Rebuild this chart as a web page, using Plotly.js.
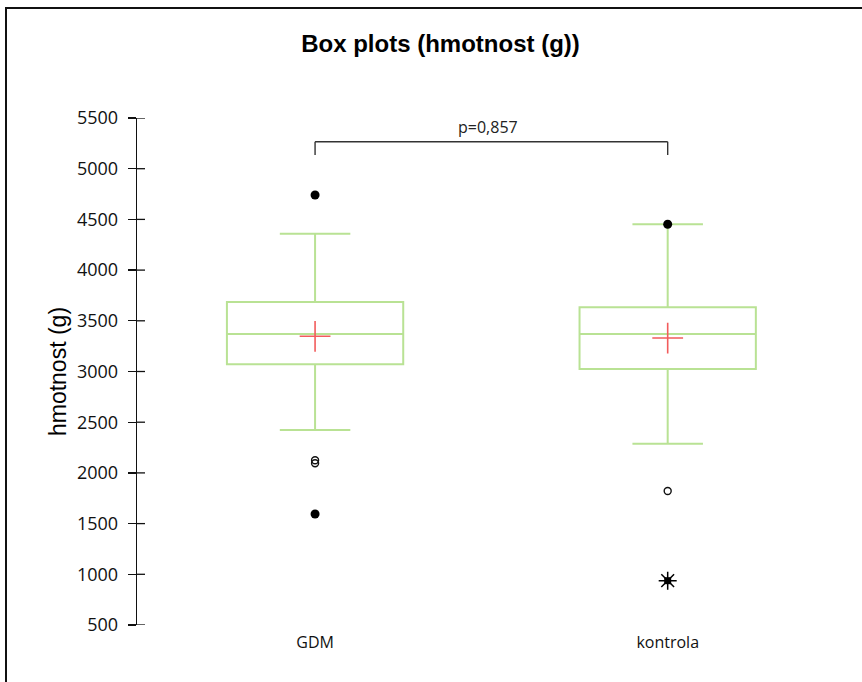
<!DOCTYPE html>
<html>
<head>
<meta charset="utf-8">
<script src="https://cdn.plot.ly/plotly-3.0.1.min.js"></script>
<style>
  html, body { margin: 0; padding: 0; background: #fff; }
  #wrap { position: relative; width: 862px; height: 682px; }
  #chart { position: absolute; left: 0; top: 0; width: 862px; height: 682px; }
  #frame { position: absolute; left: 5px; top: 7px; width: 857px; height: 675px;
           border-top: 2px solid #111; border-left: 2px solid #111; pointer-events: none; box-sizing: border-box; }
</style>
</head>
<body>
<div id="wrap">
  <div id="chart"></div>
  <div id="frame"></div>
</div>
<script>
// ---- data ----
const categories = ['GDM', 'kontrola'];
const q1Vals = [3071, 3025];
const medianVals = [3370, 3370];
const q3Vals = [3685, 3633];
const lowerWhisker = [2423, 2288];
const upperWhisker = [4359, 4452];
const meanVals = [3347, 3330];

// outliers: filled dots, open circles, extreme (asterisk)
const filledX = ['GDM', 'GDM', 'kontrola'];
const filledY = [4741, 1595, 4452];
const openX = ['GDM', 'GDM', 'kontrola'];
const openY = [2125, 2095, 1821];
const extremeX = ['kontrola'];
const extremeY = [937];

const pText = 'p=0,857';
const bracketTop = 5266;
const bracketLeg = 5135;

const yTicks = [500, 1000, 1500, 2000, 2500, 3000, 3500, 4000, 4500, 5000, 5500];

const boxColor = '#b9e294';
const meanColor = '#f25c5c';

const traces = [];
categories.forEach((c, i) => {
  traces.push({
    type: 'box', x: [c],
    q1: [q1Vals[i]], median: [medianVals[i]], q3: [q3Vals[i]],
    lowerfence: [lowerWhisker[i]], upperfence: [upperWhisker[i]],
    boxpoints: false, width: 0.5, whiskerwidth: 0.4,
    line: { color: boxColor, width: 2 },
    fillcolor: 'rgba(0,0,0,0)', hoverinfo: 'skip', showlegend: false
  });
});
traces.push({
  type: 'scatter', mode: 'markers', x: categories, y: meanVals,
  marker: { symbol: 'cross-thin-open', size: 22, color: meanColor, line: { color: meanColor, width: 1.6 } },
  hoverinfo: 'skip', showlegend: false
});
traces.push({
  type: 'scatter', mode: 'markers', x: filledX, y: filledY,
  marker: { symbol: 'circle', size: 9, color: '#000' },
  hoverinfo: 'skip', showlegend: false
});
traces.push({
  type: 'scatter', mode: 'markers', x: openX, y: openY,
  marker: { symbol: 'circle-open', size: 7, color: '#111', line: { color: '#111', width: 1.4 } },
  hoverinfo: 'skip', showlegend: false
});
traces.push({
  type: 'scatter', mode: 'markers', x: extremeX, y: extremeY,
  marker: { symbol: 'asterisk-open', size: 15, color: '#000', line: { color: '#000', width: 1.5 } },
  hoverinfo: 'skip', showlegend: false
});
traces.push({
  type: 'scatter', mode: 'markers', x: extremeX, y: extremeY,
  marker: { symbol: 'square', size: 7, color: '#000' },
  hoverinfo: 'skip', showlegend: false
});

// inner half of the crossing tick marks
const innerTicks = yTicks.map(v => ({
  type: 'line', xref: 'paper', yref: 'y', x0: 0, x1: 8 / 707, y0: v, y1: v,
  line: { color: '#111', width: 1.3 }
}));

const layout = {
  width: 862, height: 682,
  margin: { l: 137, r: 18, t: 118, b: 57 },
  paper_bgcolor: '#fff', plot_bgcolor: '#fff',
  title: {
    text: '<b>Box plots (hmotnost (g))</b>',
    font: { family: 'Liberation Sans, Arial, sans-serif', size: 24, color: '#000' },
    xref: 'container', x: 0.511, xanchor: 'center',
    yref: 'container', y: 1 - 44 / 682, yanchor: 'middle'
  },
  xaxis: {
    type: 'category', categoryorder: 'array', categoryarray: categories,
    range: [-0.505, 1.5],
    showline: false, showgrid: false, zeroline: false, ticks: '',
    ticklabelstandoff: 6,
    tickfont: { family: 'Open Sans, sans-serif', size: 16, color: '#111' }
  },
  yaxis: {
    range: [500, 5500], tickvals: yTicks,
    showline: true, linecolor: '#111', linewidth: 1.3,
    ticks: 'outside', ticklen: 8, tickcolor: '#111', tickwidth: 1.3,
    showgrid: false, zeroline: false,
    ticklabelstandoff: 6,
    tickfont: { family: 'Open Sans, sans-serif', size: 18, color: '#111' },
    title: { text: 'hmotnost (g)', standoff: 4,
             font: { family: 'Liberation Sans, Arial, sans-serif', size: 23, color: '#000' } }
  },
  shapes: innerTicks.concat([
    { type: 'line', xref: 'x', yref: 'y', x0: 0, x1: 1, y0: bracketTop, y1: bracketTop, line: { color: '#333', width: 1.4 } },
    { type: 'line', xref: 'x', yref: 'y', x0: 0, x1: 0, y0: bracketLeg, y1: bracketTop, line: { color: '#333', width: 1.4 } },
    { type: 'line', xref: 'x', yref: 'y', x0: 1, x1: 1, y0: bracketLeg, y1: bracketTop, line: { color: '#333', width: 1.4 } }
  ]),
  annotations: [
    { xref: 'x', yref: 'y', x: 0.49, y: bracketTop, text: pText, showarrow: false,
      yanchor: 'bottom', yshift: 2,
      font: { family: 'Open Sans, sans-serif', size: 16, color: '#222' } }
  ]
};

Plotly.newPlot('chart', traces, layout, { staticPlot: true, displayModeBar: false });
</script>
</body>
</html>
